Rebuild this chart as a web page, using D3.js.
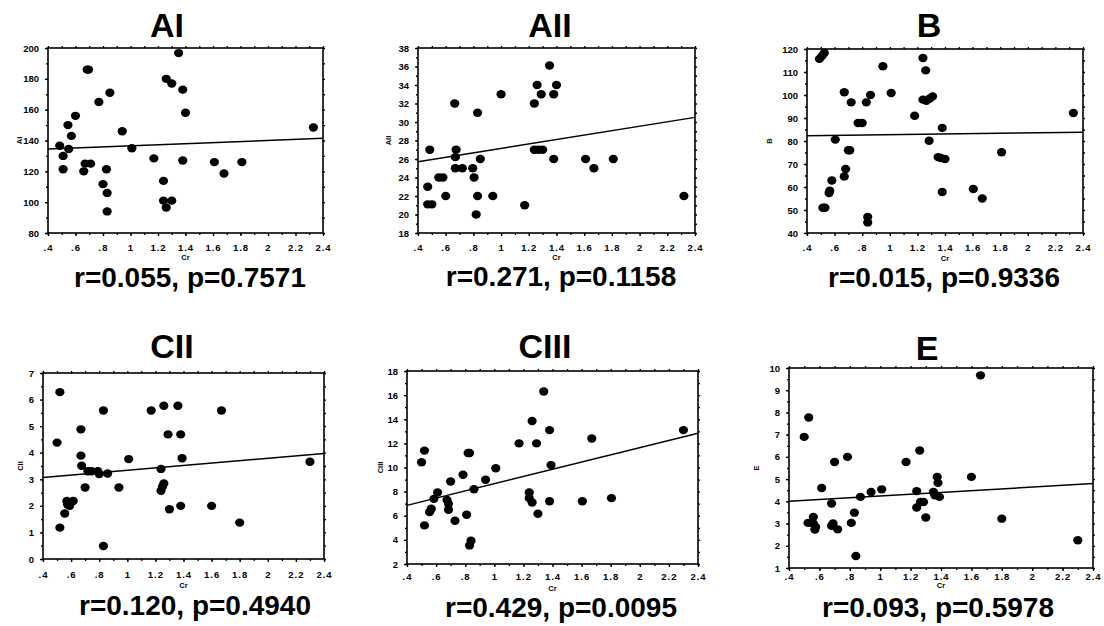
<!DOCTYPE html>
<html>
<head>
<meta charset="utf-8">
<script src="https://cdn.jsdelivr.net/npm/d3@7"></script>
<style>
  body { margin: 0; background: #fff; }
  svg { font-family: "Liberation Sans", Arial, sans-serif; }
  .tick text { font-size: 9.5px; font-weight: bold; fill: #000; }
</style>
</head>
<body>
<svg id="chart" width="1104" height="626"></svg>
<script>
// shared x axis (serum creatinine)
const xDomain = [0.4, 2.4];
const xTicks = [0.4, 0.6, 0.8, 1.0, 1.2, 1.4, 1.6, 1.8, 2.0, 2.2, 2.4];
const xTickLabels = [".4", ".6", ".8", "1", "1.2", "1.4", "1.6", "1.8", "2", "2.2", "2.4"];

const panelNames = ["AI", "AII", "B", "CII", "CIII", "E"];
const yAxisNames = ["AI", "AII", "B", "CII", "CIII", "E"];
const statTexts = ["r=0.055, p=0.7571", "r=0.271, p=0.1158", "r=0.015, p=0.9336",
                   "r=0.120, p=0.4940", "r=0.429, p=0.0095", "r=0.093, p=0.5978"];

const yTicksAI = [80, 100, 120, 140, 160, 180, 200];
const yTicksAII = [18, 20, 22, 24, 26, 28, 30, 32, 34, 36, 38];
const yTicksB = [40, 50, 60, 70, 80, 90, 100, 110, 120];
const yTicksCII = [0, 1, 2, 3, 4, 5, 6, 7];
const yTicksCIII = [2, 4, 6, 8, 10, 12, 14, 16, 18];
const yTicksE = [1, 2, 3, 4, 5, 6, 7, 8, 9, 10];

// [Cr, value]
const pointsAI = [[0.485,136.6],[0.51,130],[0.51,121.4],[0.545,150],[0.55,134.5],[0.57,143],[0.60,156],
  [0.66,120],[0.67,125],[0.71,125],[0.685,186],[0.695,186],[0.77,165],[0.80,111.7],[0.825,121.4],
  [0.83,106],[0.83,94],[0.85,171],[0.94,146],[1.01,135],[1.17,128.4],[1.24,113.8],[1.24,101],
  [1.26,96.5],[1.30,101],[1.26,180],[1.30,177],[1.35,196.7],[1.38,173],[1.40,158],[1.38,127],
  [1.61,126],[1.68,118.6],[1.81,126],[2.33,148.4]];
const pointsAII = [[0.47,21.1],[0.50,21.1],[0.47,23],[0.485,27],[0.55,24],[0.58,24],[0.60,22],
  [0.665,32],[0.67,26.2],[0.675,27],[0.67,25],[0.72,25],[0.795,25],[0.805,24],[0.83,31],[0.83,22],
  [0.82,20],[0.85,26],[0.94,22],[1.0,33],[1.17,21],[1.24,32],[1.26,34],[1.29,33],[1.24,27],
  [1.27,27],[1.30,27],[1.35,36.1],[1.38,33],[1.40,34],[1.38,26],[1.61,26],[1.67,25],[1.81,26],[2.32,22]];
const pointsB = [[0.49,115.7],[0.51,117.1],[0.525,118.3],[0.515,51],[0.53,51],[0.56,57.4],[0.565,58.4],
  [0.58,62.8],[0.605,80.6],[0.67,101.2],[0.67,64.6],[0.68,67.8],[0.70,76],[0.71,76],[0.72,96.8],
  [0.77,87.8],[0.80,87.8],[0.83,96.8],[0.86,100],[0.84,47],[0.84,44.6],[0.95,112.5],[1.01,100.9],
  [1.18,91],[1.24,116.1],[1.26,110.7],[1.24,98],[1.265,97.5],[1.29,98.5],[1.31,99.4],[1.285,80.1],
  [1.35,73],[1.37,72.6],[1.40,72.2],[1.38,85.7],[1.38,57.8],[1.605,59.1],[1.67,55],[1.81,75.1],[2.33,92.2]];
const pointsCII = [[0.50,4.38],[0.52,6.28],[0.52,1.18],[0.555,1.71],[0.57,2.18],[0.59,2.0],[0.615,2.18],
  [0.575,2.05],[0.67,4.88],[0.67,3.89],[0.675,3.51],[0.70,2.69],[0.72,3.3],[0.745,3.3],[0.79,3.3],
  [0.80,3.2],[0.83,5.59],[0.83,0.49],[0.86,3.22],[0.94,2.69],[1.01,3.76],[1.17,5.59],[1.24,3.39],
  [1.24,2.57],[1.25,2.72],[1.26,2.84],[1.26,5.77],[1.29,4.69],[1.30,1.87],[1.36,5.77],[1.38,4.69],
  [1.39,3.79],[1.38,2.0],[1.60,2.0],[1.67,5.59],[1.80,1.37],[2.30,3.66]];
const pointsCIII = [[0.50,10.44],[0.52,11.4],[0.52,5.2],[0.555,6.3],[0.567,6.58],[0.585,7.4],[0.61,7.93],
  [0.675,7.3],[0.685,6.5],[0.685,7.0],[0.70,8.84],[0.73,5.58],[0.785,9.4],[0.81,6.08],[0.82,11.2],
  [0.83,11.2],[0.83,3.54],[0.84,3.93],[0.86,8.2],[0.94,8.98],[1.01,9.94],[1.17,12.0],[1.24,7.93],
  [1.24,7.46],[1.26,7.1],[1.26,13.86],[1.29,12.0],[1.30,6.17],[1.34,16.3],[1.38,13.1],[1.38,7.2],
  [1.39,10.2],[1.605,7.2],[1.67,12.4],[1.805,7.46],[2.30,13.1]];
const pointsE = [[0.50,6.9],[0.53,7.77],[0.525,3.03],[0.56,3.3],[0.56,3.0],[0.57,2.73],[0.575,2.85],
  [0.615,4.6],[0.68,3.9],[0.68,2.9],[0.69,3.0],[0.70,5.77],[0.72,2.74],[0.785,6.0],[0.81,3.03],
  [0.83,3.49],[0.84,1.54],[0.87,4.2],[0.94,4.42],[1.01,4.54],[1.17,5.77],[1.24,4.46],[1.24,3.72],
  [1.265,3.97],[1.285,3.97],[1.26,6.29],[1.30,3.27],[1.35,4.42],[1.36,4.27],[1.375,5.1],[1.38,4.83],
  [1.39,4.2],[1.60,5.1],[1.66,9.67],[1.80,3.22],[2.30,2.25]];

// fitted line values at Cr = .4 and Cr = 2.4
const fitAI = [134.5, 141.4];
const fitAII = [25.7, 30.5];
const fitB = [82.3, 83.8];
const fitCII = [3.07, 3.97];
const fitCIII = [6.86, 12.84];
const fitE = [4.0, 4.8];

const panelPoints = [pointsAI, pointsAII, pointsB, pointsCII, pointsCIII, pointsE];
const panelFits = [fitAI, fitAII, fitB, fitCII, fitCIII, fitE];
const panelYTicks = [yTicksAI, yTicksAII, yTicksB, yTicksCII, yTicksCIII, yTicksE];

// frame boxes and text anchors (pixels); lp = x tick label centre below frame, cr = "Cr" centre below frame
const layout = [
  {l: 48,  r: 323,  t: 48,  b: 233, tx: 167, ty: 37,  sx: 190, sy: 287, lx: 19,  lp: 15, cr: 24},
  {l: 418, r: 695,  t: 48,  b: 233, tx: 550, ty: 37,  sx: 561, sy: 286, lx: 388, lp: 15, cr: 24},
  {l: 807, r: 1083, t: 49,  b: 233, tx: 929, ty: 37,  sx: 944, sy: 287, lx: 769, lp: 15, cr: 25},
  {l: 43,  r: 324,  t: 373, b: 559, tx: 172, ty: 358, sx: 195, sy: 615, lx: 20,  lp: 16, cr: 26},
  {l: 407, r: 698,  t: 371, b: 564, tx: 545, ty: 358, sx: 561, sy: 617, lx: 380, lp: 13, cr: 24},
  {l: 789, r: 1093, t: 368, b: 568, tx: 927, ty: 360, sx: 938, sy: 617, lx: 756, lp: 9,  cr: 17}
];

const svg = d3.select('#chart');

layout.forEach((L, i) => {
    const yTicks = panelYTicks[i];
    const x = d3.scaleLinear().domain(xDomain).range([L.l, L.r]);
    const y = d3.scaleLinear().domain(d3.extent(yTicks)).range([L.b, L.t]);
    const g = svg.append("g");

    // minor ticks (half steps)
    const yStep = yTicks[1] - yTicks[0];
    const yMinor = d3.range(yTicks[0], yTicks[yTicks.length - 1] + 1e-9, yStep / 2);
    const xMinor = d3.range(0.4, 2.4001, 0.1);

    const noLabel = a => a.tickFormat("").tickSizeOuter(0);

    g.append("g").attr("transform", `translate(0,${L.b})`)
        .call(noLabel(d3.axisBottom(x).tickValues(xMinor).tickSize(2)));
    g.append("g").attr("transform", `translate(0,${L.t})`)
        .call(noLabel(d3.axisTop(x).tickValues(xMinor).tickSize(2)));
    g.append("g").attr("transform", `translate(${L.l},0)`)
        .call(noLabel(d3.axisLeft(y).tickValues(yMinor).tickSize(2)));
    g.append("g").attr("transform", `translate(${L.r},0)`)
        .call(noLabel(d3.axisRight(y).tickValues(yMinor).tickSize(2)));

    // labelled axes
    g.append("g").attr("transform", `translate(0,${L.b})`)
        .call(d3.axisBottom(x).tickValues(xTicks).tickSize(3).tickSizeOuter(0)
            .tickFormat((d, k) => xTickLabels[k]))
        .call(a => a.selectAll("text")
            .attr("y", L.lp).attr("dy", "0.35em")
            .attr("letter-spacing", "1px"));
    g.append("g").attr("transform", `translate(${L.l},0)`)
        .call(d3.axisLeft(y).tickValues(yTicks).tickSize(3).tickSizeOuter(0).tickPadding(6)
            .tickFormat(d => String(d)));

    g.selectAll(".domain").remove();
    g.selectAll(".tick line").attr("stroke", "#000").attr("stroke-width", 1.3);

    // frame
    g.append("rect")
        .attr("x", L.l).attr("y", L.t)
        .attr("width", L.r - L.l).attr("height", L.b - L.t)
        .attr("fill", "none").attr("stroke", "#000").attr("stroke-width", 1.6);

    // regression line
    const fit = panelFits[i];
    g.append("line")
        .attr("x1", x(xDomain[0])).attr("y1", y(fit[0]))
        .attr("x2", x(xDomain[1])).attr("y2", y(fit[1]))
        .attr("stroke", "#000").attr("stroke-width", 1.5);

    // points
    g.append("g").selectAll("ellipse")
        .data(panelPoints[i])
        .join("ellipse")
        .attr("cx", d => x(d[0]))
        .attr("cy", d => y(d[1]))
        .attr("rx", 4.6).attr("ry", 4.2)
        .attr("fill", "#000");

    // axis titles
    g.append("text")
        .attr("x", (L.l + L.r) / 2).attr("y", L.b + L.cr)
        .attr("dy", "0.35em")
        .attr("text-anchor", "middle")
        .attr("font-size", 7.5).attr("font-weight", "bold")
        .text("Cr");
    g.append("text")
        .attr("transform", `translate(${L.lx},${(L.t + L.b) / 2}) rotate(-90)`)
        .attr("text-anchor", "middle").attr("dy", "0.35em")
        .attr("font-size", 7.5).attr("font-weight", "bold")
        .text(yAxisNames[i]);

    // panel title and stats
    g.append("text")
        .attr("x", L.tx).attr("y", L.ty)
        .attr("text-anchor", "middle")
        .attr("font-size", 34).attr("font-weight", "bold")
        .text(panelNames[i]);
    g.append("text")
        .attr("x", L.sx).attr("y", L.sy)
        .attr("text-anchor", "middle")
        .attr("font-size", 28).attr("font-weight", "bold")
        .text(statTexts[i]);
});
</script>
</body>
</html>
